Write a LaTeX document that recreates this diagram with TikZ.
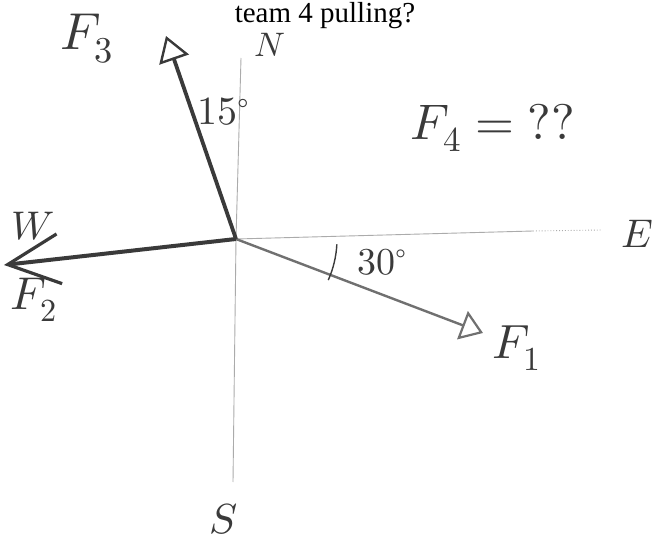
\documentclass[tikz,border=0pt]{standalone}
\usepackage{fontspec}
\usepackage{unicode-math}
\usepackage{tikz}
\usetikzlibrary{arrows.meta,positioning}
\newfontfamily\headfont{Liberation Serif}
\definecolor{inkdark}{HTML}{3A3A3A}
\definecolor{inkgray}{HTML}{707070}
\definecolor{axisgray}{HTML}{ABABAB}
\tikzset{
  axisline/.style={draw=axisgray,line width=0.9pt},
  axisdots/.style={draw=axisgray,line width=0.9pt,dotted},
  forcebig/.style={draw=inkdark,line width=3.8pt,-{Triangle[open,length=25pt,width=31pt,line width=2.4pt]}},
  forcethin/.style={draw=inkgray,line width=2.4pt,-{Triangle[open,length=22pt,width=30pt,line width=2.2pt]}},
  forcebarb/.style={draw=inkdark,line width=4pt,-{Straight Barb[length=52pt,width=50pt,line width=3.2pt]}},
  anglemark/.style={draw=inkdark,line width=1.4pt},
  hand/.style={text=inkdark,inner sep=0pt},
  headline/.style={font=\headfont\fontsize{29}{32}\selectfont,inner sep=0pt,anchor=base}
}
\begin{document}
\begin{tikzpicture}[x=1pt,y=1pt]
  \useasboundingbox (0,0) rectangle (653,544);
  \clip (0,0) rectangle (653,544);
  % question text at the top
  \node[headline] (head) at (325,521) {team 4 pulling?};
  % compass axes
  \coordinate (O) at (236,305);
  \coordinate (north) at (241,486);
  \coordinate (south) at (233,62);
  \coordinate (eastend) at (533,313);
  \coordinate (east) at (602,314);
  \draw[axisline] (O) -- (north);
  \draw[axisline] (O) -- (south);
  \draw[axisline] (O) -- (eastend);
  \draw[axisdots] (eastend) -- (east);
  % forces
  \coordinate (tip1) at (483,211);
  \coordinate (tip2) at (4,279);
  \coordinate (tip3) at (166,508);
  \draw[forcethin] (O) -- (tip1);
  \draw[forcebarb] (O) -- (tip2);
  \draw[forcebig] (O) -- (tip3);
  % angle of F1 below east
  \draw[anglemark] (O) ++(-3:101) arc[start angle=-3, end angle=-24, radius=101];
  % labels
  \node[hand,font=\fontsize{52}{56}\selectfont] (lF3) at (87,505) {$F_3$};
  \node[hand,font=\fontsize{34}{38}\selectfont] (lN) at (270,499) {$N$};
  \node[hand,font=\fontsize{40}{44}\selectfont] (l15) at (224,432) {$15^\circ$};
  \node[hand,font=\fontsize{50}{54}\selectfont] (lF4) at (493,416) {$F_4=??$};
  \node[hand,font=\fontsize{40}{44}\selectfont] (lW) at (33,318) {$W$};
  \node[hand,font=\fontsize{40}{44}\selectfont] (lE) at (637,310) {$E$};
  \node[hand,font=\fontsize{46}{50}\selectfont] (lF2) at (34,244) {$F_2$};
  \node[hand,font=\fontsize{38}{42}\selectfont] (l30) at (382,282) {$30^\circ$};
  \node[hand,font=\fontsize{48}{52}\selectfont] (lF1) at (517,196) {$F_1$};
  \node[hand,font=\fontsize{42}{46}\selectfont] (lS) at (224,25) {$S$};
\end{tikzpicture}
\end{document}
